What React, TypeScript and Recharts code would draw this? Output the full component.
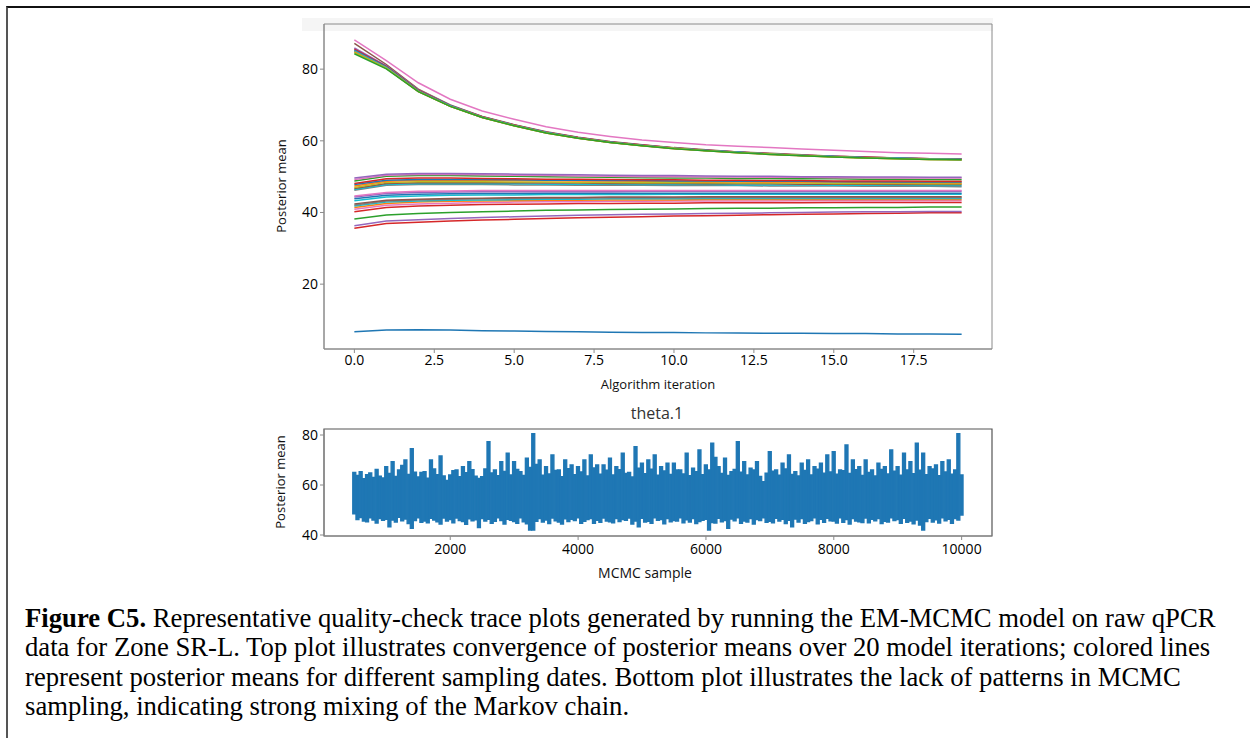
import { LineChart, Line, ComposedChart, Bar, XAxis, YAxis, ReferenceArea } from "recharts";

// ---- top plot: posterior means per EM iteration ----
const iterations = [0, 1, 2, 3, 4, 5, 6, 7, 8, 9, 10, 11, 12, 13, 14, 15, 16, 17, 18, 19];
const iterTicks = [0, 2.5, 5, 7.5, 10, 12.5, 15, 17.5];
const postTicks = [20, 40, 60, 80];

const lowBlue = [6.7, 7.2, 7.3, 7.2, 7.0, 6.9, 6.8, 6.7, 6.6, 6.5, 6.5, 6.4, 6.4, 6.3, 6.3, 6.2, 6.2, 6.1, 6.1, 6.0];

const redBottom = [35.6, 36.9, 37.3, 37.6, 37.9, 38.1, 38.3, 38.5, 38.7, 38.8, 39.0, 39.1, 39.2, 39.4, 39.5, 39.6, 39.7, 39.8, 39.9, 39.9];
const purpleBottom = [36.3, 37.6, 38.0, 38.3, 38.6, 38.8, 39.0, 39.2, 39.4, 39.5, 39.6, 39.7, 39.8, 39.9, 40.0, 40.1, 40.2, 40.2, 40.3, 40.3];
const oliveLow = [38.2, 39.3, 39.7, 40.0, 40.2, 40.4, 40.6, 40.7, 40.8, 40.9, 41.0, 41.1, 41.2, 41.2, 41.3, 41.3, 41.4, 41.4, 41.5, 41.5];

const g3Red = [40.2, 41.4, 41.8, 42.0, 42.2, 42.3, 42.4, 42.5, 42.5, 42.6, 42.6, 42.7, 42.7, 42.7, 42.7, 42.8, 42.8, 42.8, 42.8, 42.8];
const g3Pink = [40.9, 42.0, 42.4, 42.6, 42.8, 42.9, 43.0, 43.0, 43.1, 43.1, 43.2, 43.2, 43.2, 43.2, 43.3, 43.3, 43.3, 43.3, 43.3, 43.3];
const g3Orange = [41.4, 42.5, 42.9, 43.1, 43.2, 43.3, 43.4, 43.4, 43.5, 43.5, 43.5, 43.6, 43.6, 43.6, 43.6, 43.6, 43.6, 43.6, 43.6, 43.6];
const g3Cyan = [41.8, 42.9, 43.2, 43.4, 43.5, 43.6, 43.7, 43.7, 43.8, 43.8, 43.8, 43.9, 43.9, 43.9, 43.9, 43.9, 43.9, 43.9, 43.9, 43.9];
const g3Gray = [42.1, 43.2, 43.5, 43.7, 43.8, 43.9, 44.0, 44.0, 44.1, 44.1, 44.1, 44.2, 44.2, 44.2, 44.2, 44.2, 44.2, 44.2, 44.2, 44.2];
const g3Brown = [42.4, 43.4, 43.7, 43.9, 44.0, 44.1, 44.2, 44.2, 44.3, 44.3, 44.3, 44.4, 44.4, 44.4, 44.4, 44.4, 44.4, 44.4, 44.4, 44.4];

const g2Cyan = [43.3, 44.3, 44.6, 44.8, 44.9, 44.9, 45.0, 45.0, 45.0, 45.0, 45.1, 45.1, 45.1, 45.1, 45.1, 45.1, 45.1, 45.1, 45.1, 45.1];
const g2Blue = [43.8, 44.8, 45.1, 45.2, 45.3, 45.3, 45.4, 45.4, 45.4, 45.4, 45.4, 45.4, 45.4, 45.4, 45.4, 45.4, 45.4, 45.4, 45.4, 45.4];
const g2Purple = [44.3, 45.3, 45.6, 45.7, 45.8, 45.8, 45.8, 45.8, 45.8, 45.9, 45.9, 45.9, 45.9, 45.9, 45.9, 45.9, 45.9, 45.9, 45.9, 45.9];
const g2Pink = [44.6, 45.6, 45.9, 46.0, 46.1, 46.1, 46.1, 46.1, 46.1, 46.1, 46.1, 46.1, 46.1, 46.1, 46.1, 46.1, 46.1, 46.1, 46.1, 46.1];

const midGray = [46.2, 47.6, 47.8, 47.8, 47.8, 47.7, 47.7, 47.6, 47.6, 47.6, 47.5, 47.5, 47.5, 47.4, 47.4, 47.4, 47.3, 47.3, 47.3, 47.2];
const midCyan = [46.4, 47.8, 48.0, 48.0, 48.0, 48.0, 47.9, 47.9, 47.9, 47.8, 47.8, 47.8, 47.7, 47.7, 47.7, 47.6, 47.6, 47.6, 47.5, 47.5];
const midBrown = [46.7, 48.1, 48.3, 48.3, 48.3, 48.3, 48.2, 48.2, 48.1, 48.1, 48.1, 48.0, 48.0, 48.0, 47.9, 47.9, 47.9, 47.8, 47.8, 47.8];
const midOlive = [47.0, 48.4, 48.6, 48.6, 48.6, 48.5, 48.5, 48.4, 48.4, 48.3, 48.3, 48.3, 48.2, 48.2, 48.2, 48.1, 48.1, 48.1, 48.0, 48.0];
const midOrange = [47.4, 48.7, 49.0, 49.0, 49.0, 48.9, 48.9, 48.8, 48.8, 48.7, 48.7, 48.6, 48.6, 48.5, 48.5, 48.5, 48.4, 48.4, 48.4, 48.3];
const midBlue = [47.8, 49.0, 49.2, 49.2, 49.2, 49.1, 49.0, 49.0, 48.9, 48.9, 48.8, 48.8, 48.7, 48.7, 48.7, 48.6, 48.6, 48.5, 48.5, 48.5];
const midRed = [48.1, 49.4, 49.6, 49.6, 49.5, 49.4, 49.3, 49.3, 49.2, 49.1, 49.1, 49.0, 49.0, 48.9, 48.9, 48.8, 48.8, 48.8, 48.7, 48.7];
const midGreen = [48.8, 50.1, 50.3, 50.3, 50.2, 50.1, 50.0, 49.9, 49.8, 49.7, 49.6, 49.6, 49.5, 49.5, 49.4, 49.4, 49.3, 49.3, 49.2, 49.2];
const midPink = [49.2, 50.4, 50.6, 50.6, 50.5, 50.4, 50.3, 50.2, 50.1, 50.0, 50.0, 49.9, 49.9, 49.8, 49.8, 49.7, 49.7, 49.6, 49.6, 49.6];
const midPurple = [49.6, 50.7, 50.9, 50.9, 50.8, 50.7, 50.6, 50.5, 50.4, 50.3, 50.3, 50.2, 50.1, 50.1, 50.0, 50.0, 49.9, 49.9, 49.8, 49.8];

const hiPink = [88.2, 82.4, 76.2, 71.6, 68.3, 66.0, 63.9, 62.4, 61.2, 60.2, 59.5, 58.9, 58.5, 58.1, 57.7, 57.4, 57.0, 56.7, 56.5, 56.3];
const hiBrown = [87.2, 81.3, 74.4, 70.0, 66.8, 64.5, 62.5, 61.0, 59.8, 58.9, 58.1, 57.5, 56.9, 56.5, 56.1, 55.7, 55.5, 55.2, 55.0, 54.9];
const hiPurple = [85.9, 80.9, 74.2, 69.9, 66.7, 64.4, 62.4, 60.9, 59.7, 58.8, 58.0, 57.4, 56.9, 56.4, 56.0, 55.7, 55.4, 55.2, 55.0, 54.9];
const hiRed = [85.6, 80.8, 74.1, 69.8, 66.7, 64.4, 62.4, 60.9, 59.7, 58.8, 58.0, 57.4, 56.9, 56.4, 56.0, 55.7, 55.4, 55.2, 55.0, 54.9];
const hiBlue = [85.3, 80.6, 74.0, 69.8, 66.6, 64.3, 62.3, 60.8, 59.6, 58.7, 57.9, 57.3, 56.8, 56.3, 55.9, 55.6, 55.3, 55.1, 54.9, 54.8];
const hiGray = [85.1, 80.5, 73.9, 69.7, 66.6, 64.3, 62.3, 60.8, 59.6, 58.7, 57.9, 57.3, 56.8, 56.3, 55.9, 55.6, 55.3, 55.1, 54.9, 54.8];
const hiCyan = [85.0, 80.4, 73.8, 69.7, 66.6, 64.3, 62.3, 60.8, 59.6, 58.7, 57.9, 57.3, 56.8, 56.3, 55.9, 55.6, 55.3, 55.1, 54.9, 54.8];
const hiOrange = [84.8, 80.2, 73.7, 69.6, 66.5, 64.2, 62.2, 60.7, 59.5, 58.6, 57.8, 57.2, 56.7, 56.2, 55.8, 55.5, 55.2, 55.0, 54.8, 54.7];
const hiOlive = [84.6, 80.3, 73.8, 69.6, 66.5, 64.2, 62.2, 60.7, 59.5, 58.6, 57.9, 57.2, 56.7, 56.3, 55.9, 55.5, 55.2, 55.0, 54.8, 54.7];
const hiGreen = [84.3, 80.1, 73.7, 69.6, 66.5, 64.2, 62.2, 60.7, 59.5, 58.6, 57.8, 57.2, 56.7, 56.2, 55.8, 55.5, 55.2, 55.0, 54.8, 54.7];

const topSeries = [
  lowBlue,
  redBottom, purpleBottom, oliveLow,
  g3Red, g3Pink, g3Orange, g3Cyan, g3Gray, g3Brown,
  g2Cyan, g2Blue, g2Purple, g2Pink,
  midGray, midCyan, midBrown, midOlive, midOrange, midBlue, midRed, midGreen, midPink, midPurple,
  hiPink, hiBrown, hiPurple, hiRed, hiBlue, hiGray, hiCyan, hiOrange, hiOlive, hiGreen,
];

// tab10
const C = {
  blue: "#1f77b4", orange: "#ff7f0e", green: "#2ca02c", red: "#d62728", purple: "#9467bd",
  brown: "#8c564b", pink: "#e377c2", gray: "#7f7f7f", olive: "#bcbd22", cyan: "#17becf",
};
const topColors = [
  C.blue,
  C.red, C.purple, C.green,
  C.red, C.pink, C.orange, C.cyan, C.gray, C.brown,
  C.cyan, C.blue, C.purple, C.pink,
  C.gray, C.cyan, C.brown, C.olive, C.orange, C.blue, C.red, C.green, C.pink, C.purple,
  C.pink, C.brown, C.purple, C.red, C.blue, C.gray, C.cyan, C.orange, C.olive, C.green,
];

// ---- bottom plot: MCMC trace of theta.1, as min/max per sample window ----
const mcmcSample = [
  500, 550, 600, 650, 700, 750, 800, 850, 900, 950,
  1000, 1050, 1100, 1150, 1200, 1250, 1300, 1350, 1400, 1450,
  1500, 1550, 1600, 1650, 1700, 1750, 1800, 1850, 1900, 1950,
  2000, 2050, 2100, 2150, 2200, 2250, 2300, 2350, 2400, 2450,
  2500, 2550, 2600, 2650, 2700, 2750, 2800, 2850, 2900, 2950,
  3000, 3050, 3100, 3150, 3200, 3250, 3300, 3350, 3400, 3450,
  3500, 3550, 3600, 3650, 3700, 3750, 3800, 3850, 3900, 3950,
  4000, 4050, 4100, 4150, 4200, 4250, 4300, 4350, 4400, 4450,
  4500, 4550, 4600, 4650, 4700, 4750, 4800, 4850, 4900, 4950,
  5000, 5050, 5100, 5150, 5200, 5250, 5300, 5350, 5400, 5450,
  5500, 5550, 5600, 5650, 5700, 5750, 5800, 5850, 5900, 5950,
  6000, 6050, 6100, 6150, 6200, 6250, 6300, 6350, 6400, 6450,
  6500, 6550, 6600, 6650, 6700, 6750, 6800, 6850, 6900, 6950,
  7000, 7050, 7100, 7150, 7200, 7250, 7300, 7350, 7400, 7450,
  7500, 7550, 7600, 7650, 7700, 7750, 7800, 7850, 7900, 7950,
  8000, 8050, 8100, 8150, 8200, 8250, 8300, 8350, 8400, 8450,
  8500, 8550, 8600, 8650, 8700, 8750, 8800, 8850, 8900, 8950,
  9000, 9050, 9100, 9150, 9200, 9250, 9300, 9350, 9400, 9450,
  9500, 9550, 9600, 9650, 9700, 9750, 9800, 9850, 9900, 9950,
  10000,
];
const mcmcUpper = [
  65.0, 63.8, 65.3, 62.5, 64.1, 64.8, 63.0, 66.2, 63.5, 62.8,
  67.3, 64.6, 69.3, 63.4, 66.0, 67.8, 70.0, 64.2, 74.5, 65.1,
  63.2, 65.0, 65.3, 62.7, 70.0, 66.4, 64.1, 71.6, 63.6, 61.8,
  64.0, 65.7, 66.0, 63.3, 67.3, 64.9, 69.3, 66.1, 63.5, 62.6,
  63.3, 66.4, 77.3, 64.8, 66.0, 63.7, 69.3, 65.4, 72.7, 64.0,
  69.3, 66.2, 65.3, 63.8, 70.7, 67.0, 80.5, 68.2, 70.0, 63.9,
  67.3, 64.4, 72.0, 65.8, 66.0, 63.3, 70.0, 66.5, 68.0, 64.1,
  67.3, 65.2, 70.0, 63.6, 72.0, 66.8, 68.0, 64.3, 68.0, 65.9,
  70.7, 64.0, 67.3, 66.1, 72.7, 64.6, 65.0, 63.2, 75.3, 66.7,
  68.7, 64.5, 70.0, 66.3, 72.0, 63.9, 67.3, 65.6, 68.7, 64.2,
  68.7, 66.0, 66.0, 64.4, 72.7, 63.7, 66.7, 65.3, 74.0, 64.1,
  68.0, 66.0, 76.7, 71.0, 67.3, 64.6, 70.7, 63.8, 65.3, 66.2,
  77.3, 65.1, 69.3, 64.0, 66.7, 66.0, 69.3, 63.4, 61.3, 64.7,
  73.3, 65.5, 66.0, 63.9, 68.7, 66.4, 72.0, 64.2, 65.3, 63.6,
  68.7, 65.8, 70.0, 64.0, 67.3, 66.3, 68.7, 64.7, 72.0, 65.2,
  73.3, 64.3, 66.0, 65.7, 76.0, 64.6, 70.0, 66.1, 67.3, 63.8,
  70.0, 65.0, 66.0, 63.6, 68.7, 66.2, 67.3, 64.4, 74.0, 65.5,
  67.3, 63.9, 72.7, 66.0, 69.3, 64.5, 76.7, 65.9, 72.7, 64.1,
  67.3, 66.4, 68.0, 63.7, 69.3, 65.2, 70.0, 64.3, 66.0, 80.5,
  64.0,
];
const mcmcLower = [
  48.5, 46.2, 47.0, 45.6, 45.3, 46.9, 46.0, 44.8, 46.6, 45.9,
  46.3, 43.3, 46.0, 45.2, 47.1, 45.7, 46.4, 44.6, 42.7, 45.8,
  46.9, 45.1, 45.6, 44.9, 46.7, 46.0, 45.3, 44.4, 46.8, 45.6,
  46.2, 44.9, 46.8, 45.8, 45.4, 44.3, 46.5, 45.7, 46.1, 43.0,
  46.6, 45.6, 46.3, 44.7, 45.5, 46.9, 45.8, 44.4, 46.3, 45.9,
  45.4, 44.7, 46.9, 45.3, 44.5, 42.0, 42.0, 45.5, 46.6, 45.2,
  46.0, 44.6, 46.8, 45.7, 45.2, 44.4, 46.5, 45.4, 46.3, 45.8,
  46.9, 44.7, 45.5, 46.2, 46.6, 44.7, 45.9, 45.1, 46.8, 45.6,
  45.3, 44.9, 46.6, 45.4, 46.2, 45.9, 46.8, 44.4, 45.6, 43.3,
  46.7, 45.2, 45.5, 44.7, 46.9, 45.9, 46.2, 44.5, 46.6, 45.3,
  45.8, 45.6, 46.9, 44.9, 46.1, 45.2, 46.6, 44.6, 45.4, 45.9,
  46.3, 42.0, 45.0, 44.8, 46.7, 45.3, 45.8, 42.7, 46.4, 45.7,
  46.9, 44.7, 45.6, 45.2, 46.6, 44.4, 46.2, 45.8, 46.9, 45.1,
  45.5, 44.9, 46.7, 45.6, 46.3, 44.6, 45.9, 43.3, 46.4, 45.2,
  46.6, 44.7, 45.4, 45.8, 46.9, 44.5, 46.3, 45.1, 46.7, 45.7,
  45.6, 44.8, 46.9, 45.1, 46.2, 44.4, 46.6, 45.6, 45.3, 45.0,
  46.8, 44.9, 46.3, 45.7, 46.6, 44.6, 45.5, 45.2, 46.9, 45.8,
  46.2, 44.7, 46.7, 45.1, 45.6, 44.5, 46.0, 44.0, 42.0, 45.4,
  46.7, 45.2, 46.1, 44.8, 46.9, 45.7, 46.3, 44.7, 46.6, 46.0,
  48.0,
];
const sampleTicks = [2000, 4000, 6000, 8000, 10000];
const traceTicks = [40, 60, 80];

const ITER_DOMAIN: [number, number] = [-0.95, 19.95];
const POST_DOMAIN: [number, number] = [1.9, 92.6];
const SAMPLE_DOMAIN: [number, number] = [25, 10475];
const TRACE_DOMAIN: [number, number] = [39.6, 82.4];

const topData = iterations.map((it, i) => {
  const row: Record<string, number> = { iter: it };
  topSeries.forEach((s, k) => {
    row[`s${k}`] = s[i];
  });
  return row;
});

const traceData = mcmcSample.map((x, i) => ({ sample: x, band: [mcmcLower[i], mcmcUpper[i]] }));

const FONT = "'Open Sans', 'DejaVu Sans', sans-serif";
const SPINE = "#8a8a8a";
const tickStyle = { fill: "#000", fontSize: 14, fontFamily: FONT };

export default function App() {
  return (
    <div
      style={{
        position: "absolute",
        left: 0,
        top: 0,
        width: 1250,
        height: 738,
        overflow: "hidden",
        background: "#fff",
        fontFamily: FONT,
      }}
    >
      {/* document frame */}
      <div
        style={{
          position: "absolute",
          left: 6,
          top: 6,
          width: 1300,
          height: 800,
          borderTop: "2px solid #111",
          borderLeft: "2px solid #555",
        }}
      />
      {/* faint band left over from the pasted figure */}
      <div style={{ position: "absolute", left: 302, top: 18, width: 691, height: 13, background: "#f5f5f5" }} />

      <div style={{ position: "absolute", left: 0, top: 0 }}>
        <LineChart width={1250} height={400} data={topData} margin={{ top: 24, right: 258, bottom: 21, left: 264 }}>
          <XAxis
            dataKey="iter"
            type="number"
            domain={ITER_DOMAIN}
            ticks={iterTicks}
            tickFormatter={(v: number) => v.toFixed(1)}
            stroke={SPINE}
            tickSize={4}
            tick={tickStyle}
            height={30}
          />
          <YAxis type="number" domain={POST_DOMAIN} ticks={postTicks} stroke={SPINE} tickSize={4} tick={tickStyle} width={60} />
          <ReferenceArea
            x1={ITER_DOMAIN[0]}
            x2={ITER_DOMAIN[1]}
            y1={POST_DOMAIN[0]}
            y2={POST_DOMAIN[1]}
            fill="none"
            stroke={SPINE}
            strokeWidth={1}
          />
          {topSeries.map((_, k) => (
            <Line
              key={k}
              dataKey={`s${k}`}
              type="linear"
              stroke={topColors[k]}
              strokeWidth={1.5}
              dot={false}
              isAnimationActive={false}
            />
          ))}
        </LineChart>
      </div>

      <div style={{ position: "absolute", left: 658, top: 384, transform: "translate(-50%, -50%)", fontSize: 13, color: "#111", whiteSpace: "nowrap" }}>
        Algorithm iteration
      </div>
      <div style={{ position: "absolute", left: 281, top: 186, transform: "translate(-50%, -50%) rotate(-90deg)", fontSize: 13, color: "#111", whiteSpace: "nowrap" }}>
        Posterior mean
      </div>

      <div style={{ position: "absolute", left: 0, top: 400 }}>
        <ComposedChart
          width={1250}
          height={200}
          data={traceData}
          margin={{ top: 29, right: 258, bottom: 34, left: 264 }}
          barCategoryGap={0}
          barGap={0}
        >
          <XAxis
            dataKey="sample"
            type="number"
            domain={SAMPLE_DOMAIN}
            ticks={sampleTicks}
            stroke={SPINE}
            tickSize={4}
            tickMargin={4}
            tick={tickStyle}
            height={30}
          />
          <YAxis type="number" domain={TRACE_DOMAIN} ticks={traceTicks} stroke={SPINE} tickSize={4} tick={tickStyle} width={60} />
          <ReferenceArea
            x1={SAMPLE_DOMAIN[0]}
            x2={SAMPLE_DOMAIN[1]}
            y1={TRACE_DOMAIN[0]}
            y2={TRACE_DOMAIN[1]}
            fill="none"
            stroke="#555"
            strokeWidth={1.2}
          />
          <Bar dataKey="band" fill="#1f77b4" stroke="#1f77b4" strokeWidth={1.3} isAnimationActive={false} />
        </ComposedChart>
      </div>

      <div style={{ position: "absolute", left: 657, top: 413, transform: "translate(-50%, -50%)", fontSize: 16, color: "#333", whiteSpace: "nowrap" }}>
        theta.1
      </div>
      <div style={{ position: "absolute", left: 645, top: 572, transform: "translate(-50%, -50%)", fontSize: 14, color: "#111", whiteSpace: "nowrap" }}>
        MCMC sample
      </div>
      <div style={{ position: "absolute", left: 280, top: 482, transform: "translate(-50%, -50%) rotate(-90deg)", fontSize: 13, color: "#111", whiteSpace: "nowrap" }}>
        Posterior mean
      </div>

      <div
        style={{
          position: "absolute",
          left: 25,
          top: 604,
          fontFamily: "'Liberation Serif', 'Times New Roman', serif",
          fontSize: 26.7,
          lineHeight: "29.3px",
          color: "#000",
          whiteSpace: "nowrap",
        }}
      >
        <b>Figure C5.</b> Representative quality-check trace plots generated by running the EM-MCMC model on raw qPCR
        <br />
        data for Zone SR-L. Top plot illustrates convergence of posterior means over 20 model iterations; colored lines
        <br />
        represent posterior means for different sampling dates. Bottom plot illustrates the lack of patterns in MCMC
        <br />
        sampling, indicating strong mixing of the Markov chain.
      </div>
    </div>
  );
}
